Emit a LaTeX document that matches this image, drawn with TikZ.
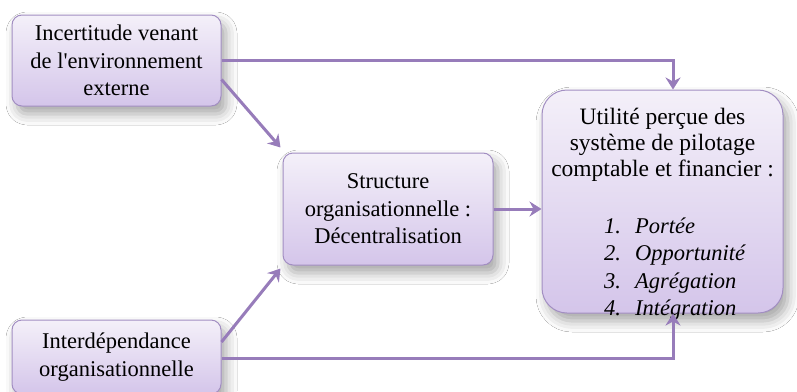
\documentclass[tikz,border=0pt]{standalone}
\usepackage{fontspec}
\setmainfont{Liberation Serif}
\usetikzlibrary{shadows.blur,arrows.meta}
\definecolor{lineviolet}{HTML}{977CBA}
\definecolor{boxedge}{HTML}{A28EC2}
\definecolor{boxtop}{HTML}{F4F0F9}
\definecolor{boxbottom}{HTML}{D4C5EA}
\tikzset{
  box/.style={draw=boxedge, line width=1pt, rounded corners=10pt,
    top color=boxtop, bottom color=boxbottom, inner sep=0pt,
    blur shadow={shadow xshift=5pt, shadow yshift=-8pt,
      shadow blur radius=11pt, shadow opacity=35}},
  link/.style={draw=lineviolet, line width=3pt,
    -{Stealth[width=15pt,length=12pt,inset=4pt]}},
  txt/.style={font=\fontsize{22.5}{27.5}\selectfont, align=center, inner sep=0pt}
}
\begin{document}
\begin{tikzpicture}[x=1pt,y=-1pt]
\useasboundingbox (0,0) rectangle (797,391);
\fill[white] (0,0) rectangle (797,391);

% boxes
\node[box, txt, minimum width=209pt, minimum height=91pt] (env) at (116.5,60.5)
  {Incertitude venant\\de l\textquotesingle environnement\\externe};
\node[box, txt, minimum width=209pt, minimum height=74pt] (inter) at (116.5,357)
  {Interdépendance\\organisationnelle};
\node[box, txt, minimum width=210pt, minimum height=112pt] (struct) at (388,209)
  {Structure\\organisationnelle :\\Décentralisation};
\node[box, rounded corners=25pt, minimum width=241pt, minimum height=223pt] (util) at (662.5,201.5) {};

% text of the outcome box
\node[txt, font=\fontsize{23.5}{26}\selectfont, anchor=north] (utilhead) at (662.5,108)
  {Utilité perçue des\\système de pilotage\\comptable et financier :};
\node[txt, anchor=north west, align=left] (utillist) at (604,214)
  {\itshape\begin{tabular}{@{}l@{\hspace{14pt}}l@{}}
   1. & Portée\\
   2. & Opportunité\\
   3. & Agrégation\\
   4. & Intégration
  \end{tabular}};

% connectors
\draw[link] (env.east) -| ([xshift=10.5pt]util.north);
\draw[link] ([yshift=-19pt]env.east) -- ([xshift=-2pt,yshift=5pt]struct.north west);
\draw[link] ([yshift=15pt]inter.east) -- ([xshift=-2pt,yshift=-3pt]struct.south west);
\draw[link] ([yshift=-1pt]inter.east) -| ([xshift=10.5pt]util.south);
\draw[link] (struct.east) -- (struct.east -| util.west);
\end{tikzpicture}
\end{document}
